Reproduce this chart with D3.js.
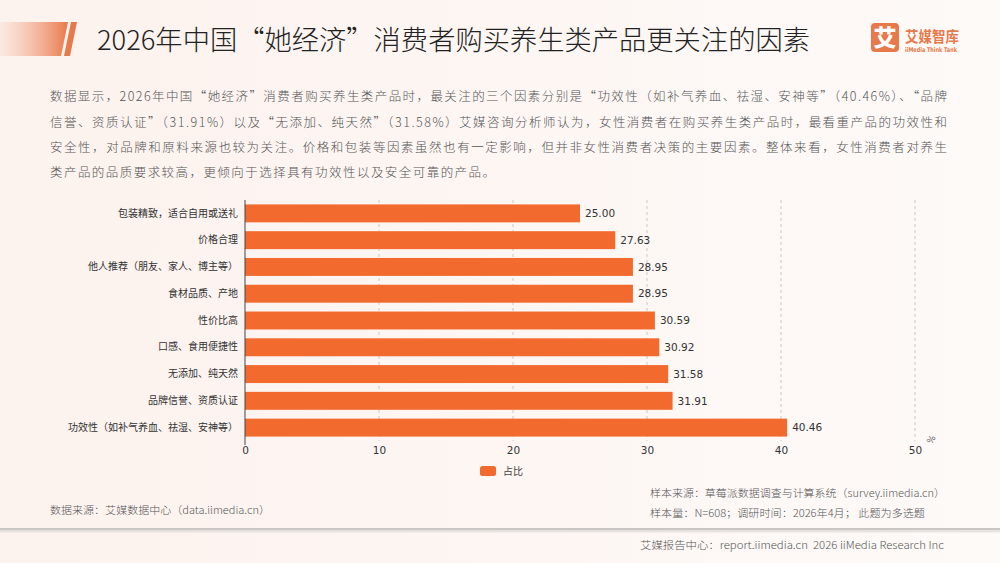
<!DOCTYPE html>
<html><head><meta charset="utf-8">
<script src="https://cdn.jsdelivr.net/npm/d3@7"></script>
<style>body{margin:0;background:#fdf6f3;}svg{display:block;}</style>
</head><body>
<script>
const categories = ["包装精致，适合自用或送礼","价格合理","他人推荐（朋友、家人、博主等）","食材品质、产地","性价比高","口感、食用便捷性","无添加、纯天然","品牌信誉、资质认证","功效性（如补气养血、祛湿、安神等）"];
const values = [25.00, 27.63, 28.95, 28.95, 30.59, 30.92, 31.58, 31.91, 40.46];
const xTicks = [0, 10, 20, 30, 40, 50];
const seriesName = "占比";
const title = "2026年中国“她经济”消费者购买养生类产品更关注的因素";
const paragraph = [
 "数据显示，2026年中国“她经济”消费者购买养生类产品时，最关注的三个因素分别是“功效性（如补气养血、祛湿、安神等”（40.46%）、“品牌",
 "信誉、资质认证”（31.91%）以及“无添加、纯天然”（31.58%）艾媒咨询分析师认为，女性消费者在购买养生类产品时，最看重产品的功效性和",
 "安全性，对品牌和原料来源也较为关注。价格和包装等因素虽然也有一定影响，但并非女性消费者决策的主要因素。整体来看，女性消费者对养生",
 "类产品的品质要求较高，更倾向于选择具有功效性以及安全可靠的产品。"
];
const sourceLeft = "数据来源：艾媒数据中心（data.iimedia.cn）";
const sourceRight = ["样本来源：草莓派数据调查与计算系统（survey.iimedia.cn）","样本量：N=608；调研时间：2026年4月； 此题为多选题"];
const bottomText = "艾媒报告中心：report.iimedia.cn\u00a0\u00a02026 iiMedia Research Inc";

const W = 1000, H = 563;
const cjk = "'Noto Sans CJK SC','Noto Sans',sans-serif";
const svg = d3.select("body").append("svg").attr("width", W).attr("height", H);
const defs = svg.append("defs");
const bg = defs.append("linearGradient").attr("id","bg").attr("x1","0").attr("x2","1").attr("y1","0").attr("y2","0");
bg.append("stop").attr("offset","0").attr("stop-color","#fcf2ee");
bg.append("stop").attr("offset","1").attr("stop-color","#fefaf8");
const tg = defs.append("linearGradient").attr("id","tg").attr("x1","0").attr("x2","1").attr("y1","0").attr("y2","0");
tg.append("stop").attr("offset","0").attr("stop-color","#f3b497").attr("stop-opacity","0.15");
tg.append("stop").attr("offset","1").attr("stop-color","#e9784a");
svg.append("rect").attr("width",W).attr("height",H).attr("fill","url(#bg)");

// title decoration
svg.append("path").attr("d","M0,22 L68,22 L61,56 L0,56 Z").attr("fill","url(#tg)");
svg.append("path").attr("d","M71,22 L77,22 L70,56 L64,56 Z").attr("fill","#e57a4c");
svg.append("text").attr("x",97).attr("y",50).attr("font-family",cjk).attr("font-size",27).attr("font-weight",300)
  .attr("fill","#222").attr("textLength",713).attr("lengthAdjust","spacingAndGlyphs").text(title);

// logo
svg.append("rect").attr("x",871).attr("y",23).attr("width",28).attr("height",29).attr("rx",4).attr("fill","#e8794b");
svg.append("text").attr("x",885).attr("y",46).attr("text-anchor","middle").attr("font-family",cjk).attr("font-weight",900)
  .attr("font-size",23).attr("fill","#fff").text("艾");
svg.append("text").attr("x",905).attr("y",42).attr("font-family",cjk).attr("font-weight",700)
  .attr("font-size",15).attr("fill","#e8794b").attr("textLength",54).attr("lengthAdjust","spacingAndGlyphs").text("艾媒智库");
svg.append("text").attr("x",905).attr("y",52).attr("font-family","'DejaVu Sans',sans-serif").attr("font-weight",700)
  .attr("font-size",6.5).attr("fill","#e8794b").attr("textLength",52).attr("lengthAdjust","spacingAndGlyphs").text("iiMedia Think Tank");

// paragraph
const pY = [101, 127, 152, 177];
const pLen = [897, 897, 897, 445];
paragraph.forEach((t,i)=>{
  svg.append("text").attr("x",50).attr("y",pY[i]).attr("font-family",cjk).attr("font-size",12.5).attr("font-weight",300)
    .attr("fill","#555").attr("textLength",pLen[i]).attr("lengthAdjust","spacing").text(t);
});

// chart
const x0 = 245, x1 = 915, yTop = 200, yBot = 441;
const x = d3.scaleLinear().domain([0,50]).range([x0,x1]);
const y = d3.scaleBand().domain(categories).range([yTop,yBot]).paddingInner(0.33).paddingOuter(0.165);
const g = svg.append("g");
// grid
g.selectAll(".grid").data(xTicks.filter(d=>d>0)).join("line")
  .attr("x1",d=>x(d)).attr("x2",d=>x(d)).attr("y1",yTop).attr("y2",yBot)
  .attr("stroke","#c8c8c8").attr("stroke-width",1).attr("stroke-dasharray","3,3");
// bars
g.selectAll(".bar").data(values).join("rect")
  .attr("x",x(0)).attr("y",(d,i)=>y(categories[i])).attr("width",d=>x(d)-x(0))
  .attr("height",y.bandwidth()).attr("fill","#f26a2e");
g.selectAll(".val").data(values).join("text")
  .attr("x",d=>x(d)+5).attr("y",(d,i)=>y(categories[i])+y.bandwidth()/2).attr("dy","0.35em")
  .attr("font-family","'DejaVu Sans',sans-serif").attr("font-size",10.5).attr("fill","#333")
  .text(d=>d.toFixed(2));
// y axis
const yAxis = d3.axisLeft(y).tickSize(0).tickPadding(7);
const ya = svg.append("g").attr("transform",`translate(${x0},0)`).call(yAxis);
ya.select(".domain").attr("stroke","#444").attr("d",`M0,${yTop}V${yBot+4}`);
ya.selectAll("text").attr("font-family",cjk).attr("font-size",10).attr("fill","#333");
// x axis
const xAxis = d3.axisBottom(x).tickValues(xTicks).tickSize(0).tickPadding(6);
const xa = svg.append("g").attr("transform",`translate(0,${yBot})`).call(xAxis);
xa.select(".domain").remove();
xa.selectAll("text").attr("font-family","'DejaVu Sans',sans-serif").attr("font-size",10.5).attr("fill","#333");
svg.append("text").attr("transform",`translate(934,441) rotate(-60)`).attr("text-anchor","middle")
  .attr("font-family","'DejaVu Sans',sans-serif").attr("font-size",9).attr("fill","#666").text("%");

// legend
svg.append("rect").attr("x",480).attr("y",466).attr("width",16).attr("height",10).attr("rx",2.5).attr("fill","#f26a2e");
svg.append("text").attr("x",503).attr("y",475).attr("font-family",cjk).attr("font-size",10).attr("fill","#444").text(seriesName);

// footer
svg.append("text").attr("x",50).attr("y",514).attr("font-family",cjk).attr("font-size",10.5).attr("font-weight",300).attr("fill","#555")
  .attr("textLength",220).attr("lengthAdjust","spacingAndGlyphs").text(sourceLeft);
svg.append("text").attr("x",650).attr("y",497).attr("font-family",cjk).attr("font-size",10.5).attr("font-weight",300).attr("fill","#555")
  .attr("textLength",295).attr("lengthAdjust","spacingAndGlyphs").text(sourceRight[0]);
svg.append("text").attr("x",650).attr("y",517).attr("font-family",cjk).attr("font-size",10.5).attr("font-weight",300).attr("fill","#555")
  .attr("textLength",275).attr("lengthAdjust","spacingAndGlyphs").text(sourceRight[1]);
svg.append("rect").attr("x",0).attr("y",528).attr("width",W).attr("height",2.5).attr("fill","#c9c6c4");
svg.append("rect").attr("x",0).attr("y",530.5).attr("width",W).attr("height",2).attr("fill","#e8e3e0");
svg.append("text").attr("x",640).attr("y",549).attr("font-family",cjk).attr("font-size",10.5).attr("font-weight",300).attr("fill","#555")
  .attr("textLength",304).attr("lengthAdjust","spacingAndGlyphs").text(bottomText);
</script>
</body></html>
